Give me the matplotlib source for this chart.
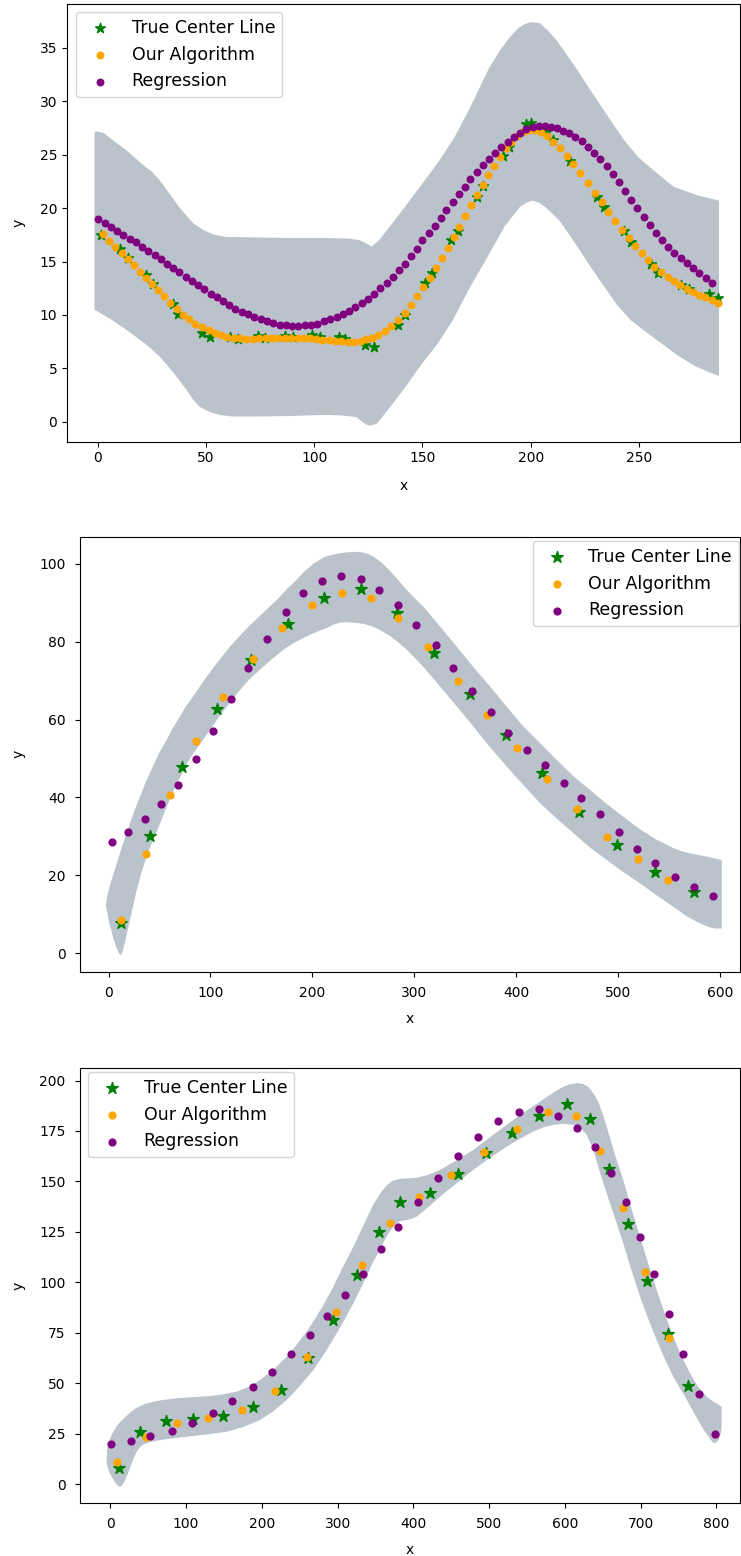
import matplotlib
matplotlib.use('Agg')
import matplotlib.pyplot as plt

band_color = '#bac3cb'

# ---------------- panel 1 ----------------
p1_true_x = [1.7, 10.2, 14.0, 22.5, 25.6, 34.9, 37.2, 48.0, 51.9, 61.1, 65.0, 74.2, 77.3, 86.6, 90.4,
             99.2, 102.8, 111.3, 114.4, 123.6, 127.8, 138.6, 142.1, 151.4, 154.5, 163.0, 166.4, 175.0,
             178.1, 187.4, 190.0, 197.7, 200.0, 207.5, 210.5, 218.2, 230.6, 234.0, 242.9, 246.3, 255.6,
             258.9, 269.4, 273.3, 282.5, 286.4]
p1_true_y = [17.5, 16.2, 15.3, 13.7, 12.9, 11.0, 10.1, 8.35, 7.97, 7.97, 7.75, 8.04, 7.85, 8.04, 7.9,
             8.1, 7.97, 7.97, 7.75, 7.2, 7.0, 9.07, 10.0, 12.96, 13.95, 17.0, 17.9, 21.06,
             22.06, 24.9, 25.7, 27.85, 27.97, 27.2, 26.4, 24.4, 21.06, 20.06, 17.9, 16.85, 14.8,
             13.95, 12.8, 12.4, 11.96, 11.56]

p1_alg_x = [2.5, 5.2, 8.2, 11.1, 13.9, 16.6, 19.5, 22.3, 25.1, 27.9, 30.6, 33.6, 36.4, 39.3, 42.2,
            45.1, 48.2, 51.2, 54.1, 57.0, 59.9, 62.8, 65.8, 68.7, 71.8, 74.7, 77.6, 80.5, 83.5, 86.4,
            89.3, 92.3, 95.2, 98.0, 100.9, 103.8, 106.7, 109.7, 112.6, 115.5, 118.4, 121.4, 123.8,
            126.8, 129.5, 132.6, 135.7, 138.5,
            141.9, 144.6, 147.6, 150.3, 153.3, 156.2, 159.0, 161.7, 164.5, 167.0, 169.7, 172.5, 175.1,
            177.8, 180.4, 183.0, 185.8, 188.4, 191.0, 193.6, 196.3, 199.0, 201.9, 205.0, 207.6, 210.4,
            213.5, 216.6, 219.6, 222.9, 226.3, 229.5, 232.8, 235.8, 239.0, 242.1, 245.2, 248.2, 251.2,
            254.2, 257.1, 260.2, 263.3, 266.2, 268.9, 272.0, 274.8, 277.7, 280.6, 283.6, 286.4]
p1_alg_y = [17.56, 16.96, 16.4, 15.84, 15.25, 14.69, 14.06, 13.5, 12.9, 12.35, 11.76, 11.16, 10.6, 10.04,
            9.6, 9.2, 8.86, 8.58, 8.33, 8.14, 7.98, 7.86, 7.8, 7.76, 7.76, 7.8, 7.8, 7.83, 7.83, 7.83,
            7.83, 7.83, 7.83, 7.8, 7.76, 7.7, 7.64, 7.58, 7.55, 7.5, 7.5, 7.58, 7.74, 7.83, 8.14, 8.5,
            8.98, 9.54,
            10.2, 10.9, 11.8, 12.66, 13.5, 14.4, 15.37, 16.3, 17.28, 18.27, 19.27, 20.27, 21.2, 22.17,
            23.08, 23.98, 24.8, 25.6, 26.2, 26.75, 27.1, 27.3, 27.3, 27.16, 26.75, 26.2, 25.6, 24.9,
            24.1, 23.26, 22.36, 21.45, 20.55, 19.64, 18.8, 17.96, 17.18, 16.46, 15.78, 15.15, 14.53,
            14.06, 13.6, 13.2, 12.8, 12.47, 12.16, 11.9, 11.66, 11.41, 11.16]

p1_reg_x = [0.1, 3.2, 6.0, 8.9, 11.9, 14.8, 17.6, 20.5, 23.4, 26.3, 29.1, 32.0, 34.8, 37.7, 40.7,
            43.4, 46.3, 49.1, 52.1, 55.0, 57.9, 60.7, 63.6, 66.5, 69.5, 72.4, 75.3, 78.2, 81.0, 84.0,
            86.9, 89.8, 92.7, 95.7, 98.6, 101.5, 104.4, 107.4, 110.3, 113.1, 116.0, 118.9, 121.9,
            124.8, 127.7, 130.5, 133.4, 136.2, 139.1,
            141.9, 144.5, 147.3, 150.0, 152.8, 155.6, 158.4, 161.1, 163.9, 166.7, 169.5, 172.2, 175.1,
            177.9, 180.7, 183.5, 186.4, 189.3, 192.1, 195.0, 197.9, 200.9, 203.8, 206.6, 209.3, 212.1,
            214.9, 217.8, 220.7, 223.5, 226.4, 229.3, 232.1, 235.1, 237.8, 240.8, 243.5, 246.3, 249.2,
            252.2, 254.9, 257.9, 260.6, 263.5, 266.3, 269.3, 272.0, 275.1, 277.9, 280.8, 283.6]
p1_reg_y = [18.96, 18.6, 18.2, 17.9, 17.5, 17.1, 16.8, 16.4, 16.0, 15.6, 15.2, 14.8, 14.4, 14.0, 13.6,
            13.2, 12.8, 12.4, 12.0, 11.67, 11.3, 10.97, 10.6, 10.3, 10.07, 9.8, 9.6, 9.4, 9.23, 9.1,
            9.05, 9.0, 9.0, 9.05, 9.1, 9.2, 9.4, 9.6, 9.8, 10.07, 10.4, 10.7, 11.1, 11.5, 11.97, 12.5,
            13.0, 13.6, 14.2,
            14.8, 15.5, 16.2, 17.0, 17.65, 18.3, 19.05, 19.8, 20.55, 21.3, 22.0, 22.7, 23.4, 24.0, 24.6,
            25.2, 25.75, 26.2, 26.7, 27.06, 27.4, 27.57, 27.7, 27.7, 27.6, 27.47, 27.2, 27.0, 26.7,
            26.3, 25.75, 25.2, 24.6, 23.9, 23.2, 22.4, 21.6, 20.8, 20.0, 19.2, 18.4, 17.7, 17.0, 16.4,
            15.8, 15.3, 14.85, 14.4, 13.9, 13.5, 13.0]

p1_band_up_x = [-1.5, -0.9, 3, 8, 13.3, 20, 25, 28.7, 33, 38, 44, 48.7, 54, 59.5, 75, 90, 105, 116,
                121, 124, 126.5, 130, 139.6, 150, 158, 165, 172, 181, 186, 190, 194, 197, 200, 204.3,
                208, 212, 220, 227.4, 235, 243, 250, 258.2, 266, 277, 287]
p1_band_up_y = [27.0, 27.2, 27.0, 26.2, 25.4, 24.2, 23.4, 22.6, 21.4, 20.0, 18.6, 17.95, 17.5, 17.3,
                17.25, 17.2, 17.2, 17.15, 17.0, 16.7, 16.4, 17.0, 19.5, 22.3, 24.5, 26.7, 29.4, 33.2,
                34.8, 35.9, 36.8, 37.2, 37.4, 37.3, 36.6, 35.7, 33.4, 31.1, 28.8, 26.4, 24.7, 23.3,
                22.0, 21.2, 20.7]
p1_band_lo_x = [287, 283, 276, 268, 258, 252, 246.3, 240, 235, 228, 219.6, 213, 207.3, 204, 201, 198,
                195, 188, 181.1, 172, 164, 157, 150, 143, 136.5, 132, 128.8, 126, 124.2, 121, 119.5,
                112, 105.7, 90, 74.9, 62, 56.4, 52, 47.1, 44, 41, 35, 28.7, 22, 13.3, 6, -1.5]
p1_band_lo_y = [4.3, 4.6, 5.2, 6.2, 7.7, 8.6, 9.5, 10.9, 12.35, 14.4, 17.0, 18.9, 20.0, 20.5, 20.7, 20.5,
                20.1, 18.3, 15.8, 12.6, 9.5, 7.3, 5.5, 3.5, 1.75, 0.6, -0.19, -0.35, -0.28, 0.2, 0.45,
                0.6, 0.65, 0.55, 0.5, 0.5, 0.65, 0.9, 1.4, 2.1, 3.0, 4.6, 6.1, 7.3, 8.6, 9.6, 10.5]

# ---------------- panel 2 ----------------
p2_true_x = [12.3, 40.7, 72.4, 106.2, 139.8, 176.5, 211.5, 247.5, 282.8, 319.4, 354.8, 390.1,
             425.7, 461.7, 499.3, 536.6, 574.6]
p2_true_y = [7.6, 30.1, 47.9, 62.6, 75.3, 84.6, 91.3, 93.5, 87.3, 77.0, 66.6, 55.9,
             46.2, 36.2, 27.8, 20.7, 15.6]
p2_alg_x = [12.3, 36.5, 60.4, 85.6, 112.7, 141.5, 170.6, 200.0, 228.9, 257.3, 284.4, 313.8, 342.7,
            371.7, 400.6, 430.0, 460.1, 488.9, 520.0, 549.1]
p2_alg_y = [8.5, 25.4, 40.5, 54.4, 65.7, 75.5, 83.5, 89.3, 92.5, 91.1, 86.2, 78.6, 70.0,
            61.1, 52.6, 44.6, 37.1, 29.9, 24.1, 18.8]
p2_reg_x = [3.7, 19.1, 36.1, 51.5, 68.5, 85.6, 102.6, 119.9, 136.9, 155.5, 174.2, 191.2, 209.8,
            228.5, 247.5, 265.8, 284.4, 302.1, 321.1, 337.8, 356.4, 375.4, 392.4, 411.0, 428.1,
            447.0, 464.0, 482.6, 501.3, 518.3, 536.6, 555.9, 574.6, 593.6]
p2_reg_y = [28.5, 31.2, 34.4, 38.3, 43.3, 49.9, 57.1, 65.2, 73.3, 80.8, 87.6, 92.5, 95.6,
            96.9, 96.1, 93.3, 89.4, 84.4, 79.1, 73.3, 67.4, 62.0, 56.6, 52.2, 48.3,
            43.8, 39.8, 35.7, 31.2, 26.7, 23.2, 19.6, 17.0, 14.7]
p2_band_up_x = [-2.5, -1, 1.5, 5, 8, 14, 20, 25, 30.9, 37, 44, 50, 57.1, 63, 70, 76, 83.2, 95, 106.2,
                120, 135.6, 150, 165, 175, 183, 192, 201, 212, 224, 235, 246.8, 253, 259.9, 268, 276.3,
                284, 292, 300, 309, 325, 341.8, 358, 374.4, 391, 407.1, 424, 439.8, 456, 472.5, 489,
                505.2, 521, 538, 554, 562, 570.7, 580, 587.1, 601.8]
p2_band_up_y = [12.5, 15, 17.5, 20.5, 23, 28, 32.5, 36.3, 40.2, 44.2, 48.2, 51.6, 54.8, 57.8, 60.7,
                63.4, 66, 70.5, 74.5, 79, 83.4, 87, 90.7, 93.5, 95.5, 98, 100, 101.8, 102.6, 103.0,
                103.1, 102.7, 101.9, 100.3, 98.2, 95.9, 93.5, 91.3, 89, 84, 78.7, 73.5, 68.5, 63.2,
                58.2, 53.8, 49.6, 45.5, 41.9, 38.3, 35, 31.9, 29.1, 27, 26.2, 25.6, 25.1, 24.8, 23.9]
p2_band_lo_x = [601.8, 595, 590, 580.5, 567, 554.3, 538, 521.6, 505, 489, 472, 456.2, 440, 423.5, 407,
                390.8, 374, 358, 342, 325.3, 309, 300, 292.6, 284, 276, 266.4, 258, 250, 240.2, 232,
                227.2, 220, 214.1, 206, 198, 190, 181.4, 173, 165, 157, 148.7, 140, 132, 124, 115.9,
                108, 100, 92, 83.2, 76, 70, 63, 57.1, 52, 47, 42, 37.5, 33.5, 30, 27, 24.3, 21, 18,
                16, 14, 12.3, 10.5, 8, 4.7, 1, -2.5]
p2_band_lo_y = [6.3, 6.3, 6.6, 7.6, 9.5, 11.9, 14.8, 17.9, 20.8, 23.9, 27.2, 30.8, 34.5, 38.5, 43.2,
                47.9, 53, 58.2, 63.3, 68.5, 73.5, 76, 77.9, 79.9, 81.5, 83, 84, 84.6, 84.9, 85.0,
                84.9, 84.3, 83.5, 82.7, 81.8, 80.8, 79.6, 78.2, 76.5, 74.8, 72.8, 70.8, 68.5, 66, 63.3,
                60.5, 57.5, 54.5, 51.3, 48.3, 45, 41.3, 37.6, 34.2, 31, 28, 24.8, 21.7, 18.5, 15.5,
                12.2, 8.5, 5, 2.6, 0.6, -0.5, -0.2, 1.2, 3.8, 7.5, 11.9]

# ---------------- panel 3 ----------------
p3_true_x = [11.9, 39.2, 73.5, 109.6, 149.2, 188.0, 225.3, 261.4, 293.6, 325.3, 355.2, 383.0, 422.1,
             459.4, 495.6, 530.7, 566.3, 602.5, 633.3, 657.9, 683.4, 708.1, 735.8, 763.0]
p3_true_y = [7.8, 25.9, 31.2, 32.1, 33.7, 38.0, 46.6, 62.3, 81.3, 103.6, 125.1, 139.6, 144.1,
             153.5, 164.0, 174.2, 182.6, 188.3, 181.0, 156.2, 128.9, 100.8, 74.4, 48.6]
p3_alg_x = [9.2, 46.7, 87.6, 128.5, 174.3, 218.0, 259.4, 298.0, 332.3, 369.2, 408.0, 449.3, 493.3,
            536.5, 578.2, 614.8, 646.5, 676.4, 705.8, 738.0]
p3_alg_y = [11.1, 23.2, 30.1, 32.6, 36.7, 46.3, 63.1, 85.1, 108.6, 129.3, 142.1, 153.2, 164.7,
            175.9, 184.3, 182.6, 165.2, 137.0, 104.9, 72.2]
p3_reg_x = [0.5, 27.3, 52.4, 81.0, 108.3, 135.1, 160.2, 188.0, 213.5, 238.6, 263.6, 286.5, 309.8,
            333.2, 357.4, 380.2, 405.8, 433.0, 458.6, 485.8, 512.2, 539.1, 565.9, 591.4, 616.5,
            639.9, 660.6, 680.8, 699.3, 717.8, 738.0, 756.5, 777.2, 798.3]
p3_reg_y = [19.8, 21.5, 24.0, 26.4, 30.1, 35.4, 41.1, 48.3, 55.7, 64.5, 73.9, 83.5, 93.7,
            104.1, 116.4, 127.6, 139.7, 151.6, 162.8, 172.2, 180.0, 184.3, 185.9, 182.6, 176.6,
            167.2, 154.0, 139.7, 122.3, 104.1, 84.3, 64.3, 44.6, 24.8]
p3_band_up_x = [-4.8, -4, -1.5, 2, 8, 14, 21.6, 28, 34.8, 45, 56.8, 70, 87.6, 110, 131.6, 150, 166.8,
                182, 197.6, 215, 232.8, 248, 263.6, 280, 294.4, 307, 320.8, 334, 347.2, 358, 365, 372,
                382.5, 393, 404.5, 420, 435.2, 457, 479.2, 501, 523.2, 545, 567.2, 585, 597, 606.8,
                617, 625, 632, 638, 644.2, 650, 655.3, 666, 677.2, 688, 699.3, 710, 721.3, 732, 743.3,
                754, 765.3, 776, 787.3, 797, 807.1]
p3_band_up_y = [13.5, 18, 21.5, 24.5, 28.5, 31.2, 33.8, 36, 37.8, 39.6, 40.8, 41.7, 42.5, 43.1, 43.6,
                44.5, 45.8, 48.0, 51.6, 56.5, 63.1, 70, 78, 87.8, 97.8, 107.5, 117.6, 128, 138.6, 145,
                148, 150.2, 151.3, 151.5, 151.8, 153.3, 155.7, 160.4, 165.6, 171.8, 178, 184, 189.5,
                194, 196.7, 198.2, 198.7, 198.2, 196.5, 193.5, 189.5, 183.5, 177.1, 163.5, 150.7,
                136.5, 122.6, 109.5, 96.2, 84.5, 73, 63.5, 54.9, 48.2, 43.3, 40.6, 38.3]
p3_band_lo_x = [807.1, 806, 803, 799, 795, 790, 784, 778.4, 770, 760, 752, 743.3, 732, 721.3, 710,
                699.3, 688, 677.2, 666, 655.3, 646, 637.6, 632, 628.9, 620, 611.3, 598, 584.9, 572,
                558.5, 540, 523.2, 501, 479.2, 457, 435.2, 420, 404.5, 394, 382.5, 376, 369.3, 360,
                350, 345, 334, 320.8, 310, 298.9, 284, 268, 250, 232.8, 215, 197.6, 175, 153.6, 130,
                109.6, 88, 65.6, 52, 43, 39.2, 35, 31, 27, 23, 19, 16, 12.8, 10, 7, 3, -1, -3.5, -4.8]
p3_band_lo_y = [29, 25, 22, 20.2, 20.8, 23.3, 26.5, 30.1, 35.6, 42.5, 47.5, 53.2, 62, 71.4, 82, 92.9,
                106, 119.3, 132, 144.1, 155, 165.6, 170.5, 173.2, 176.5, 178, 178.5, 178, 176.8,
                174.7, 171, 167.2, 161.6, 155.7, 149, 142.4, 137.3, 132.5, 131, 130.3, 128.5, 125.5,
                119.5, 112, 108.5, 99.5, 89.6, 82, 74.7, 65.5, 56.5, 48.5, 41.6, 36, 31.7, 28.2,
                25.9, 24.7, 23.8, 22.9, 21.8, 20.8, 19.5, 18.3, 16, 13, 9, 5, 1.5, -0.6, -1.3, -1,
                0.5, 2.8, 5.5, 8, 10.5]

W, H = 741, 1556
fig = plt.figure(figsize=(W / 100, H / 100), dpi=100)


def make_axes(left, right, top, bottom):
    return fig.add_axes([left / W, 1 - bottom / H, (right - left) / W, (bottom - top) / H])


panels = [
    dict(box=(67, 740, 4, 441.5), xlim=(-14.2, 296.7), ylim=(-1.84, 39.1),
         xticks=[0, 50, 100, 150, 200, 250], yticks=[0, 5, 10, 15, 20, 25, 30, 35],
         band=(p1_band_up_x + p1_band_lo_x, p1_band_up_y + p1_band_lo_y),
         true=(p1_true_x, p1_true_y), alg=(p1_alg_x, p1_alg_y), reg=(p1_reg_x, p1_reg_y),
         star_s=55, dot_s=22, loc='upper left', anchor=(0.0134, 0.9817),
         tickpad=3.5, xpad=10, ypad=10.5),
    dict(box=(79.5, 740, 537, 971.7), xlim=(-28.5, 619.7), ylim=(-4.8, 106.9),
         xticks=[0, 100, 200, 300, 400, 500, 600], yticks=[0, 20, 40, 60, 80, 100],
         band=(p2_band_up_x + p2_band_lo_x, p2_band_up_y + p2_band_lo_y),
         true=(p2_true_x, p2_true_y), alg=(p2_alg_x, p2_alg_y), reg=(p2_reg_x, p2_reg_y),
         star_s=75, dot_s=24, loc='upper right', anchor=(0.9985, 0.9908),
         tickpad=6.5, xpad=9, ypad=10),
    dict(box=(79.5, 740, 1068, 1503), xlim=(-40.7, 831.3), ylim=(-9.4, 206.2),
         xticks=[0, 100, 200, 300, 400, 500, 600, 700, 800],
         yticks=[0, 25, 50, 75, 100, 125, 150, 175, 200],
         band=(p3_band_up_x + p3_band_lo_x, p3_band_up_y + p3_band_lo_y),
         true=(p3_true_x, p3_true_y), alg=(p3_alg_x, p3_alg_y), reg=(p3_reg_x, p3_reg_y),
         star_s=75, dot_s=24, loc='upper left', anchor=(0.0129, 0.9908),
         tickpad=6.5, xpad=9, ypad=10),
]

for p in panels:
    ax = make_axes(*p['box'])
    ax.fill(p['band'][0], p['band'][1], color=band_color, lw=0, zorder=1)
    ax.scatter(p['true'][0], p['true'][1], marker='*', color='green', s=p['star_s'],
               label='True Center Line', zorder=3)
    ax.scatter(p['alg'][0], p['alg'][1], marker='o', color='orange', s=p['dot_s'],
               label='Our Algorithm', zorder=4)
    ax.scatter(p['reg'][0], p['reg'][1], marker='o', color='purple', s=p['dot_s'],
               label='Regression', zorder=5)
    ax.set_xlim(*p['xlim'])
    ax.set_ylim(*p['ylim'])
    ax.set_xticks(p['xticks'])
    ax.set_yticks(p['yticks'])
    ax.tick_params(labelsize=10, pad=p['tickpad'])
    ax.set_xlabel('x', fontsize=10, labelpad=p['xpad'])
    ax.set_ylabel('y', fontsize=10, labelpad=p['ypad'])
    ax.legend(loc=p['loc'], bbox_to_anchor=p['anchor'], borderaxespad=0, fontsize=12.5)

fig.savefig('out.png', dpi=100)
